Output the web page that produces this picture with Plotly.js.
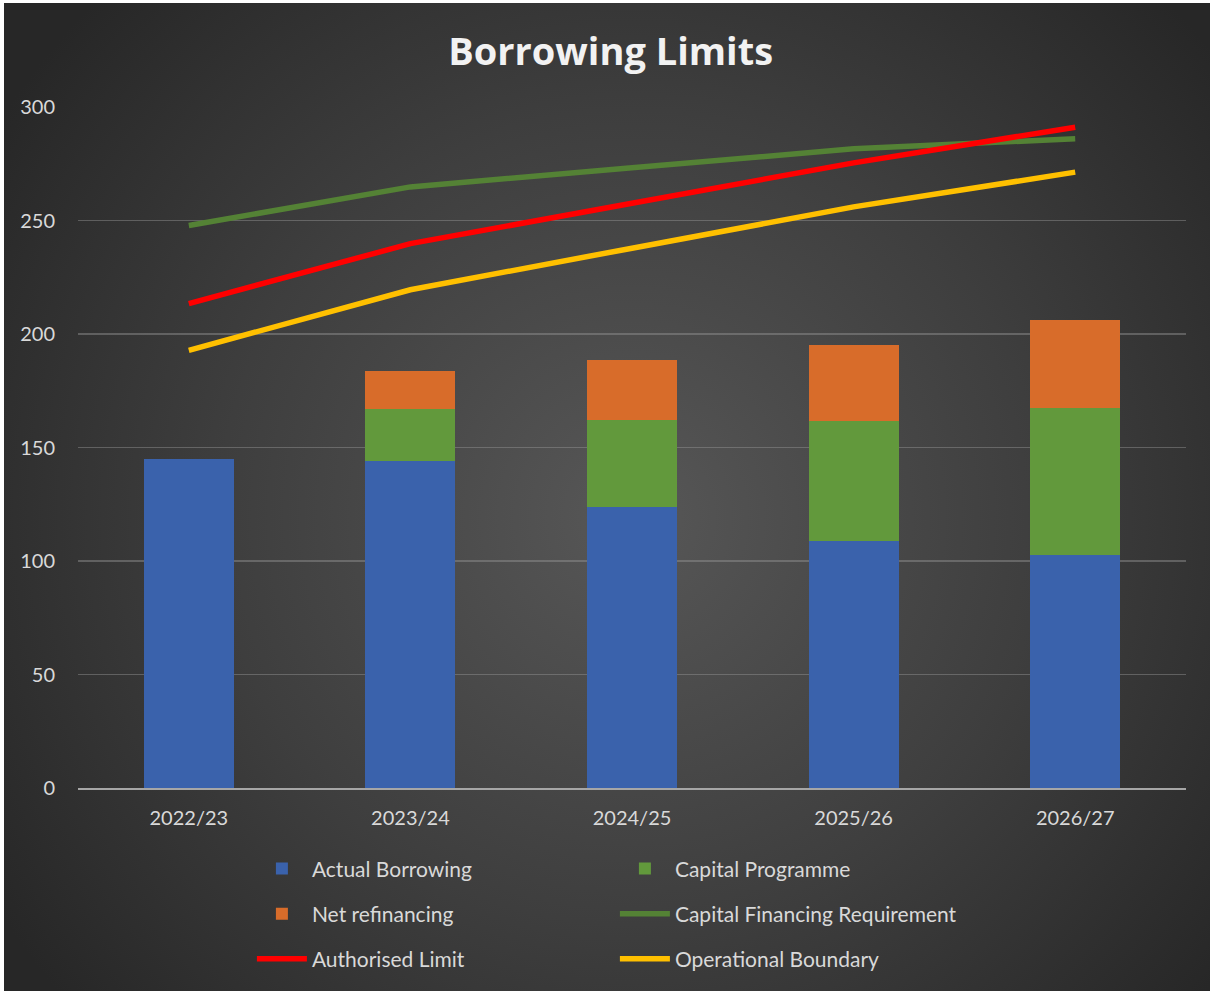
<!DOCTYPE html>
<html>
<head>
<meta charset="utf-8">
<script src="https://cdn.plot.ly/plotly-3.0.1.min.js"></script>
<style>
  html, body { margin: 0; padding: 0; background: #ffffff; }
  #frame {
    position: absolute; left: 4px; top: 3px; width: 1206px; height: 988px;
    background: radial-gradient(ellipse 62% 75% at 52% 52%, #575757 0%, #3e3e3e 55%, #272727 100%);
  }
  #chart { position: absolute; left: -4px; top: -3px; width: 1214px; height: 994px; }
</style>
</head>
<body>
<div id="frame"><div id="chart"></div></div>
<script>
const years = ['2022/23', '2023/24', '2024/25', '2025/26', '2026/27'];
const actualBorrowing = [145.0, 144.2, 123.9, 108.9, 102.7];
const capitalProgramme = [0, 22.9, 38.3, 52.9, 64.8];
const netRefinancing = [0, 16.7, 26.5, 33.5, 38.8];
const capitalFinancingRequirement = [247.8, 264.8, 273.2, 281.6, 286.0];
const authorisedLimit = [213.4, 239.8, 257.6, 275.4, 291.1];
const operationalBoundary = [192.8, 219.5, 237.8, 256.0, 271.3];

const txt = '#d9d9d9';
const traces = [
  {type: 'bar', name: 'Actual Borrowing', x: years, y: actualBorrowing,
   marker: {color: '#3a62ac'}, legend: 'legend'},
  {type: 'bar', name: 'Capital Programme', x: years, y: capitalProgramme,
   marker: {color: '#62993c'}, legend: 'legend'},
  {type: 'bar', name: 'Net refinancing', x: years, y: netRefinancing,
   marker: {color: '#d86c2a'}, legend: 'legend2'},
  {type: 'scatter', mode: 'lines', name: 'Capital Financing Requirement', x: years, y: capitalFinancingRequirement,
   line: {color: '#548235', width: 5.5}, legend: 'legend2'},
  {type: 'scatter', mode: 'lines', name: 'Authorised Limit', x: years, y: authorisedLimit,
   line: {color: '#ff0000', width: 5.5}, legend: 'legend3'},
  {type: 'scatter', mode: 'lines', name: 'Operational Boundary', x: years, y: operationalBoundary,
   line: {color: '#ffc000', width: 5.5}, legend: 'legend3'}
];

function leg(yc) {
  return {orientation: 'h', xref: 'container', yref: 'container', x: 0.2075, y: yc,
          xanchor: 'left', yanchor: 'middle', entrywidth: 298, entrywidthmode: 'pixels',
          bgcolor: 'rgba(0,0,0,0)', font: {family: 'Lato, sans-serif', size: 21, color: txt},
          itemwidth: 50, traceorder: 'normal'};
}

const layout = {
  width: 1214, height: 994,
  paper_bgcolor: 'rgba(0,0,0,0)', plot_bgcolor: 'rgba(0,0,0,0)',
  margin: {l: 78, r: 28, t: 107, b: 206},
  barmode: 'stack', bargap: 0.594,
  title: {text: '<b>Borrowing Limits</b>', x: 0.503, xanchor: 'center', y: 0.948, yanchor: 'middle',
          font: {family: 'Open Sans, sans-serif', size: 38, color: '#f2f2f2'}},
  font: {family: 'Lato, sans-serif', color: txt},
  xaxis: {type: 'category', showgrid: false, showline: true, linecolor: '#a6a6a6', linewidth: 2,
          ticks: '', tickfont: {size: 20, color: txt}, ticklabelstandoff: 11},
  yaxis: {range: [0, 300], tickvals: [0, 50, 100, 150, 200, 250, 300], showgrid: true,
          gridcolor: 'rgba(150,150,150,0.45)', gridwidth: 1.5, zeroline: false, showline: false,
          ticks: '', tickfont: {size: 20, color: txt}, ticklabelstandoff: 22},
  legend: leg(0.126), legend2: leg(0.0805), legend3: leg(0.0352),
  showlegend: true
};

Plotly.newPlot('chart', traces, layout, {displayModeBar: false, staticPlot: true});
</script>
</body>
</html>
